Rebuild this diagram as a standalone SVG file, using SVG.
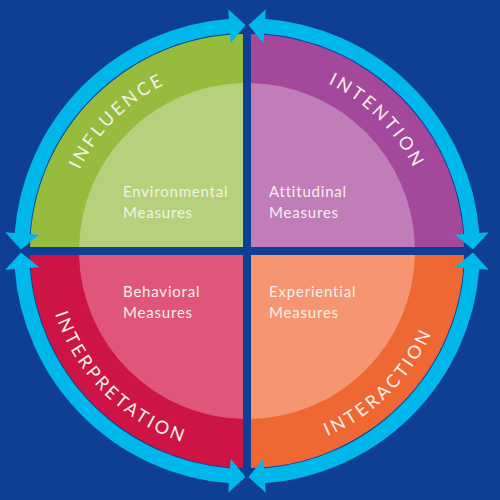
<svg xmlns="http://www.w3.org/2000/svg" width="500" height="500" viewBox="0 0 500 500">
<style>
.lbl{font-family:Lato,"Open Sans","Liberation Sans",sans-serif;font-size:18px;fill:#f4f1ea;letter-spacing:3px;}
.sub{font-family:Lato,"Open Sans","Liberation Sans",sans-serif;font-size:15px;fill:#f4f1ea;letter-spacing:0.8px;}
.ring{fill:none;stroke:#00b7ec;stroke-width:15;marker-start:url(#ah);marker-end:url(#ah);}
</style>
<defs>
<marker id="ah" markerUnits="userSpaceOnUse" viewBox="-2 -18 20 36" markerWidth="20" markerHeight="36" refX="0" refY="0" orient="auto-start-reverse">
<path d="M-1,-17 L15,0 L-1,17 Z" fill="#00b7ec"/>
</marker>
<path id="pInf" d="M61,251 A186,186 0 0 1 247,65"/>
<path id="pInt" d="M247,65 A186,186 0 0 1 433,251"/>
<path id="pItp" d="M45,251 A202,202 0 0 0 247,453"/>
<path id="pIac" d="M247,453 A202,202 0 0 0 449,251"/>
</defs>
<rect width="500" height="500" fill="#0e3f95"/>
<g id="influence">
<path d="M243,247 L30.04,247 A217,217 0 0 1 243,34.04 Z" fill="#95bc3d"/>
<path d="M243,247 L79.05,247 A168,168 0 0 1 243,83.05 Z" fill="#b5d17b"/>
<text class="lbl"><textPath href="#pInf" startOffset="50%" text-anchor="middle">INFLUENCE</textPath></text>
<text class="sub" x="123" y="197">Environmental</text>
<text class="sub" x="123" y="218">Measures</text>
</g>
<g id="intention">
<path d="M251,247 L251,34.04 A217,217 0 0 1 463.96,247 Z" fill="#a3489b"/>
<path d="M251,247 L251,83.05 A168,168 0 0 1 414.95,247 Z" fill="#c07dba"/>
<text class="lbl"><textPath href="#pInt" startOffset="50%" text-anchor="middle">INTENTION</textPath></text>
<text class="sub" x="269" y="197">Attitudinal</text>
<text class="sub" x="269" y="218">Measures</text>
</g>
<g id="interpretation">
<path d="M243,255 L243,467.96 A217,217 0 0 1 30.04,255 Z" fill="#cd1444"/>
<path d="M243,255 L243,418.95 A168,168 0 0 1 79.05,255 Z" fill="#e0567b"/>
<text class="lbl"><textPath href="#pItp" startOffset="50%" text-anchor="middle">INTERPRETATION</textPath></text>
<text class="sub" x="123" y="297">Behavioral</text>
<text class="sub" x="123" y="318">Measures</text>
</g>
<g id="interaction">
<path d="M251,255 L463.96,255 A217,217 0 0 1 251,467.96 Z" fill="#ef6733"/>
<path d="M251,255 L414.95,255 A168,168 0 0 1 251,418.95 Z" fill="#f59571"/>
<text class="lbl"><textPath href="#pIac" startOffset="50%" text-anchor="middle">INTERACTION</textPath></text>
<text class="sub" x="269" y="297">Experiential</text>
<text class="sub" x="269" y="318">Measures</text>
</g>
<g id="connectors">
<path class="ring" d="M22.11,234.48 A225.5,225.5 0 0 1 230.48,26.11"/>
<path class="ring" d="M263.52,26.11 A225.5,225.5 0 0 1 471.89,234.48"/>
<path class="ring" d="M471.89,267.52 A225.5,225.5 0 0 1 263.52,475.89"/>
<path class="ring" d="M230.48,475.89 A225.5,225.5 0 0 1 22.11,267.52"/>
</g>
</svg>
